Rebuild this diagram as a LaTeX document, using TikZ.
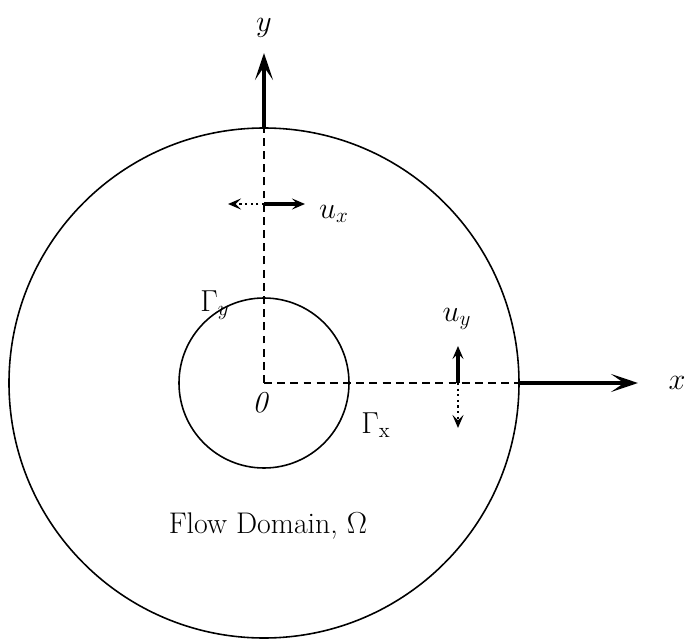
\documentclass[tikz,border=0pt]{standalone}
\usepackage{amsmath}
\usetikzlibrary{arrows.meta}
\tikzset{
  eje/.style={line width=1.8pt,-{Stealth[length=5.4mm,width=3.6mm,inset=2.6mm]}},
  guion/.style={line width=1.5pt,dash pattern=on 4.5pt off 3pt},
  vel/.style={line width=1.9pt,-{Stealth[length=2.6mm,width=2.2mm,inset=1.1mm]}},
  velp/.style={line width=1.2pt,dotted,-{Stealth[length=2.6mm,width=2.2mm,inset=1.1mm]}},
  etiq/.style={font=\fontsize{17}{20}\selectfont,inner sep=1pt},
}
\begin{document}
\begin{tikzpicture}
	\useasboundingbox (-5.28,-5.12) rectangle (8.42,7.66);
	%Circulos
	\draw[line width=0.9pt] (0,0) circle (5.1);
	\draw[line width=0.9pt] (0,0) circle (1.7);
	%Puntos
	\coordinate (O) at (0,0);
	\coordinate (ybor) at (0,5.1);
	\coordinate (ypun) at (0,6.6);
	\coordinate (xbor) at (5.1,0);
	\coordinate (xpun) at (7.48,0);
	%Ejes
	\draw[guion] (O) -- (ybor);
	\draw[guion] (O) -- (xbor);
	\draw[eje] (ybor) -- (ypun);
	\draw[eje] (xbor) -- (xpun);
	%Texto de los ejes
	\node[etiq](ylab) at (0,7.1) {$y$};
	\node[etiq](xlab) at (8.26,0) {$x$};
	\node[etiq](olab) at (-0.04,-0.4) {$\mathit{0}$};
	%Velocidad u_x
	\coordinate (uxc) at (0,3.58);
	\coordinate (uxd) at (0.82,3.58);
	\coordinate (uxi) at (-0.72,3.58);
	\draw[vel] (uxc) -- (uxd);
	\draw[velp] (uxc) -- (uxi);
	\node[etiq](uxlab) at (1.4,3.38) {$u_x$};
	%Velocidad u_y
	\coordinate (uyc) at (3.88,0);
	\coordinate (uya) at (3.88,0.74);
	\coordinate (uyb) at (3.88,-0.9);
	\draw[vel] (uyc) -- (uya);
	\draw[velp] (uyc) -- (uyb);
	\node[etiq](uylab) at (3.86,1.28) {$u_y$};
	%Fronteras
	\node[etiq](gy) at (-0.98,1.56) {$\Gamma_y$};
	\node[etiq](gx) at (2.24,-0.84) {$\Gamma_{\mathrm{x}}$};
	%Dominio
	\node[etiq](dom) at (0.08,-2.86) {Flow Domain, $\Omega$};
\end{tikzpicture}
\end{document}
